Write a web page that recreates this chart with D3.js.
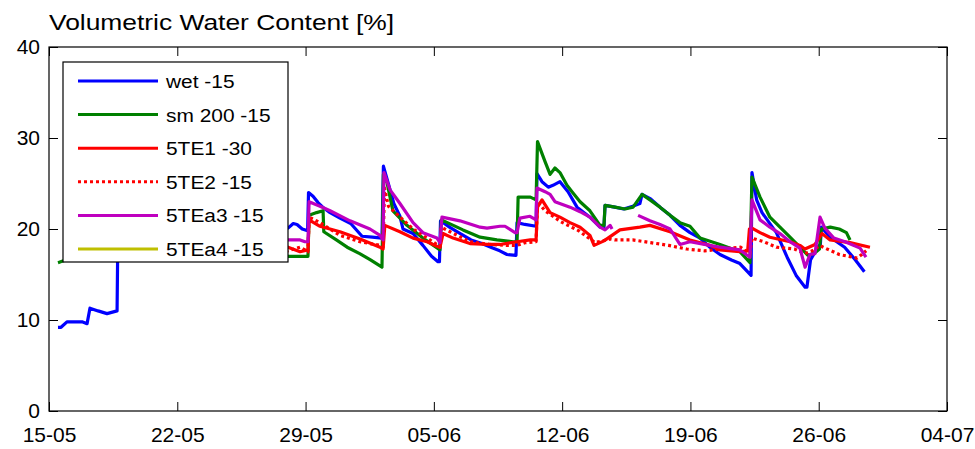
<!DOCTYPE html>
<html>
<head>
<meta charset="utf-8">
<script src="https://cdn.jsdelivr.net/npm/d3@7"></script>
<style>
  body { margin: 0; background: #fff; }
  svg text { font-family: "Liberation Sans", Arial, sans-serif; fill: #000; }
</style>
</head>
<body>
<svg id="chart" width="975" height="449"></svg>
<script>
// values: [days since 15-05, %]
const start = new Date(2013, 4, 15);
const end = new Date(2013, 6, 4);

const wet15 = [
  [0.5,9.2],[0.67,9.2],[1.0,9.8],[1.84,9.8],[2.12,9.6],[2.28,11.3],[2.73,11.0],[3.23,10.7],[3.79,11.0],
  [3.84,20.5],[6,20.3],[8,21.0],[10,20.5],[12,20.3],
  [13.31,20.1],[13.6,20.6],[13.81,20.5],[14.1,20.0],[14.4,19.8],[14.45,24.0],[14.7,23.6],[14.98,22.9],
  [15.3,22.3],[15.65,21.8],[16.2,21.2],[16.8,20.6],[17.43,19.2],[18.0,19.1],[18.54,19.0],[18.62,26.9],
  [18.88,25.1],[19.2,22.8],[19.54,21.4],[19.71,20.0],[20.27,19.5],[20.82,18.2],[21.3,17.0],[21.66,16.4],
  [21.74,16.4],[21.8,20.9],[22.3,20.2],[22.9,19.5],[23.5,18.8],[24.1,18.4],[24.6,18.0],[25.1,17.6],
  [25.5,17.2],[26.0,17.1],[26.06,20.7],[26.5,20.5],[27.12,20.3],[27.17,26.1],[27.45,25.2],[27.8,24.6],
  [28.06,24.8],[28.45,25.2],[28.9,24.1],[29.4,22.4],[30.12,21.3],[30.68,20.2],[30.9,20.2],[30.96,22.6],
  [31.5,22.4],[32.0,22.2],[32.5,22.5],[32.9,22.8],[33.02,23.8],[33.5,23.3],[34.02,22.4],[34.58,21.5],
  [35.13,20.4],[35.69,19.6],[36.25,19.0],[36.8,18.0],[37.36,17.2],[38.0,16.6],[38.47,16.2],[39.09,14.9],
  [39.14,26.2],[39.4,23.2],[39.7,21.8],[40.5,19.6],[41.1,16.9],[41.6,14.9],[42.1,13.6],[42.2,13.6],
  [42.4,16.6],[42.8,18.0],[42.95,18.3],[43.0,20.2],[43.5,19.1],[44.3,18.0],[44.9,16.6],[45.4,15.3]
];

const sm200 = [
  [0.5,16.3],[0.8,16.5],[2,17.5],[5,18.0],[9,17.5],[13,17.2],
  [13.31,17.0],[14.0,17.0],[14.42,17.0],[14.48,21.5],[14.9,21.8],[15.26,22.0],[15.3,19.7],[16.0,18.8],
  [16.6,18.0],[17.3,17.3],[17.9,16.6],[18.54,15.8],[18.62,26.0],[18.82,25.1],[19.15,22.0],[19.93,20.4],
  [20.82,19.0],[21.77,17.7],[21.85,21.0],[23.05,19.9],[24.0,19.1],[24.94,18.8],[25.84,18.6],[26.06,18.6],
  [26.12,23.5],[26.8,23.5],[27.12,23.2],[27.2,29.6],[27.62,27.4],[27.9,26.0],[28.17,26.7],[28.45,26.2],
  [28.84,24.8],[29.12,24.1],[29.57,23.0],[30.12,22.0],[30.68,20.4],[30.9,20.4],[30.96,22.6],[31.51,22.4],
  [32.07,22.2],[32.52,22.4],[33.02,23.8],[33.46,23.2],[34.02,22.4],[34.58,21.5],[35.13,20.7],[35.69,20.3],
  [36.25,19.0],[37.36,18.3],[38.47,17.5],[39.03,16.3],[39.14,25.7],[39.59,23.5],[40.14,21.3],[40.7,20.2],
  [41.26,19.1],[41.81,18.0],[42.26,17.1],[42.65,17.4],[42.9,17.8],[43.0,20.0],[43.5,20.2],[44.0,20.0],
  [44.4,19.6],[44.6,18.8]
];

const te1_30 = [
  [11.5,18.0],[13.0,18.0],
  [13.31,18.0],[13.98,17.5],[14.42,17.7],[14.48,21.0],[15.09,20.3],[16.2,19.7],[17.32,18.9],[18.43,18.0],
  [18.6,17.8],[18.7,20.4],[19.54,19.7],[20.27,19.0],[21.05,18.6],[21.6,18.1],[21.77,18.0],[21.94,19.5],
  [22.5,19.0],[23.44,18.4],[24.4,18.3],[25.11,18.3],[26.06,18.6],[26.8,18.8],[27.12,18.8],[27.2,22.4],
  [27.45,23.2],[27.9,21.8],[28.45,21.3],[29.01,20.7],[29.57,20.2],[30.12,19.3],[30.35,18.2],[30.9,18.7],
  [31.79,19.9],[32.9,20.2],[33.46,20.4],[34.58,19.7],[35.69,18.8],[36.8,18.2],[37.36,17.7],[38.47,17.5],
  [38.9,17.6],[39.0,20.0],[39.14,20.1],[39.59,19.6],[40.14,19.1],[41.26,18.6],[41.81,18.2],[42.09,17.8],
  [42.65,18.3],[43.04,19.5],[43.49,18.8],[44.6,18.5],[45.71,18.0]
];

const te2_15 = [
  [11.5,17.5],[13.0,17.6],
  [13.31,17.6],[13.98,18.0],[14.42,17.5],[14.48,21.3],[15.0,20.8],[16.2,19.3],[17.32,18.6],[18.43,18.2],
  [18.6,18.0],[18.68,24.5],[18.9,22.5],[19.5,21.4],[20.27,20.0],[20.82,19.3],[21.6,18.3],[21.77,18.0],
  [21.83,20.2],[22.33,19.7],[23.44,18.6],[24.55,18.3],[25.5,18.2],[26.06,18.2],[26.5,18.5],[27.12,18.6],
  [27.2,23.0],[27.62,22.0],[28.5,20.8],[29.5,19.8],[30.4,18.5],[31.24,18.9],[31.5,18.8],[32.5,18.8],
  [33.5,18.5],[34.5,18.2],[35.5,17.8],[36.5,17.6],[37.5,17.8],[38.5,18.0],[39.03,17.3],[39.14,19.0],
  [39.8,18.6],[40.5,18.0],[41.5,17.8],[42.09,17.3],[42.5,17.6],[42.93,18.2],[43.1,18.0],[44.0,17.2],
  [45.0,16.8],[45.5,17.6]
];

const te3_15 = [
  [11.5,19.0],[13.0,18.8],
  [13.31,18.8],[13.98,18.8],[14.25,18.6],[14.42,18.6],[14.48,23.0],[15.09,22.5],[15.65,22.0],[16.76,20.9],
  [17.87,20.0],[18.43,19.3],[18.6,18.8],[18.65,26.2],[18.99,24.3],[19.54,22.8],[20.27,20.7],[20.82,19.6],
  [21.6,19.0],[21.77,18.5],[21.88,21.3],[22.88,20.9],[24.0,20.2],[24.39,20.1],[25.11,20.3],[25.39,20.3],
  [25.95,19.6],[26.06,19.6],[26.22,21.2],[26.78,21.4],[27.12,21.0],[27.17,24.5],[27.62,24.1],[27.9,23.8],
  [28.17,23.0],[29.01,22.4],[29.57,21.9],[30.12,21.3],[30.68,20.2],[30.96,19.9],[31.24,20.4],[31.35,20.0],
  [32.0,null],
  [32.8,21.5],[33.46,20.9],[34.02,20.5],[34.58,20.0],[35.13,18.3],[35.69,18.6],[36.8,18.2],[37.36,18.0],
  [38.47,17.7],[39.03,16.9],[39.14,23.2],[39.59,21.0],[40.14,20.2],[40.7,19.5],[41.26,18.6],[41.81,17.9],
  [42.1,15.8],[42.37,17.2],[42.65,17.3],[42.93,21.3],[43.2,20.1],[43.7,19.0],[44.32,18.6],[45.16,17.9],
  [45.49,16.9]
];

const te4_15 = [];

const seriesNames = ["wet -15", "sm 200 -15", "5TE1 -30", "5TE2 -15", "5TEa3 -15", "5TEa4 -15"];
const seriesData = [wet15, sm200, te1_30, te2_15, te3_15, te4_15];
const seriesColors = ["#0000ff", "#008000", "#ff0000", "#ff0000", "#bf00bf", "#bfbf00"];
const seriesDash = [null, null, null, "3,3", null, null];

const yTicks = [0, 10, 20, 30, 40];

const svg = d3.select("#chart");
const margin = { left: 49, right: 28, top: 47, bottom: 38 };
const W = 975, H = 449;

const x = d3.scaleTime().domain([start, end]).range([margin.left, W - margin.right]);
const y = d3.scaleLinear().domain([0, 40]).range([H - margin.bottom, margin.top]);

const toDate = d => new Date(start.getTime() + d * 864e5);
// MATLAB-like: 8 evenly spaced ticks, labels show the day they fall in
const xTicks = d3.range(8).map(i => new Date(start.getTime() + i * (end - start) / 7));
const fmt = d3.timeFormat("%d-%m");

// title
svg.append("text")
  .attr("transform", `translate(${margin.left},30) scale(1.2,1)`)
  .style("font-size", "22px")
  .text("Volumetric Water Content [%]");

// lines
const line = d3.line()
  .defined(d => d[1] != null)
  .x(d => x(toDate(d[0])))
  .y(d => y(d[1]));

const plot = svg.append("g");
seriesData.forEach((data, i) => {
  if (!data.length) return;
  plot.append("path")
    .datum(data)
    .attr("fill", "none")
    .attr("stroke", seriesColors[i])
    .attr("stroke-width", 3.2)
    .attr("stroke-dasharray", seriesDash[i])
    .attr("stroke-linejoin", "round")
    .attr("d", line);
});

// axes with inward ticks
const xAxis = svg.append("g")
  .attr("transform", `translate(0,${y(0)})`)
  .call(d3.axisBottom(x).tickValues(xTicks).tickFormat(fmt).tickSizeInner(-9).tickSizeOuter(0).tickPadding(16));
xAxis.selectAll("text").style("font-size", "21px");

svg.append("g")
  .attr("transform", `translate(0,${y(40)})`)
  .call(d3.axisTop(x).tickValues(xTicks).tickFormat("").tickSizeInner(-9).tickSizeOuter(0));

const yAxis = svg.append("g")
  .attr("transform", `translate(${x(start)},0)`)
  .call(d3.axisLeft(y).tickValues(yTicks).tickSizeInner(-9).tickSizeOuter(0).tickPadding(9));
yAxis.selectAll("text").style("font-size", "21px");

svg.append("g")
  .attr("transform", `translate(${x(end)},0)`)
  .call(d3.axisRight(y).tickValues(yTicks).tickFormat("").tickSizeInner(-9).tickSizeOuter(0));

svg.selectAll(".domain").remove();
svg.selectAll(".tick line").attr("stroke", "#000");

svg.append("rect")
  .attr("x", x(start)).attr("y", y(40))
  .attr("width", x(end) - x(start)).attr("height", y(0) - y(40))
  .attr("fill", "none").attr("stroke", "#000").attr("stroke-width", 1.2);

// legend
const legend = svg.append("g").attr("transform", "translate(63,62)");
legend.append("rect")
  .attr("width", 225).attr("height", 200)
  .attr("fill", "#fff").attr("stroke", "#000").attr("stroke-width", 1.2);

const item = legend.selectAll(".item")
  .data(seriesNames)
  .enter().append("g")
  .attr("class", "item")
  .attr("transform", (d, i) => `translate(0,${19 + i * 33.6})`);

item.append("line")
  .attr("x1", 15).attr("x2", 95)
  .attr("stroke", (d, i) => seriesColors[i])
  .attr("stroke-width", 3)
  .attr("stroke-dasharray", (d, i) => seriesDash[i]);

item.append("text")
  .attr("transform", "translate(103,7) scale(1.1,1)")
  .style("font-size", "19px")
  .text(d => d);
</script>
</body>
</html>
